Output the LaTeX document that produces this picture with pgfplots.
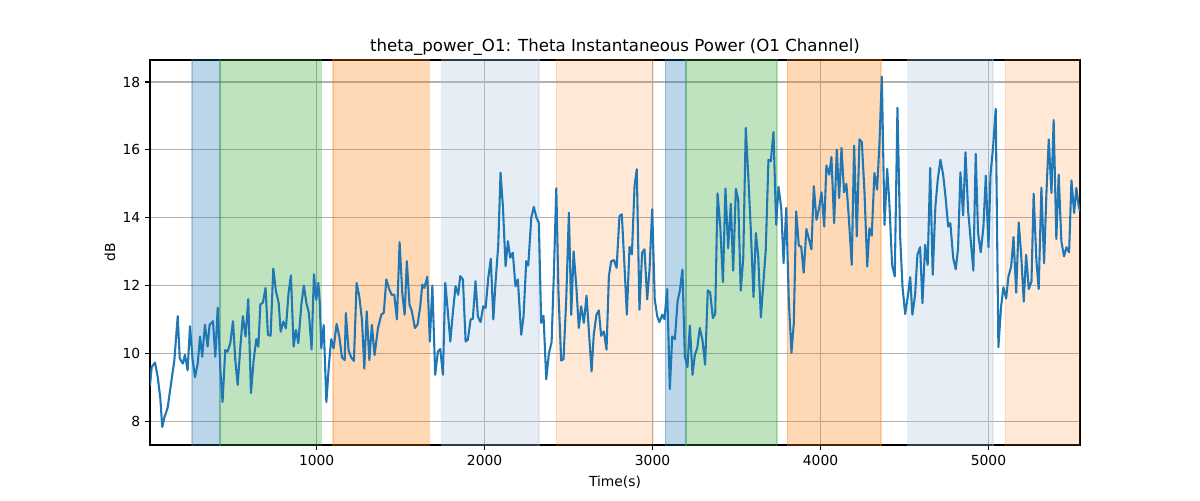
\documentclass[border=0pt]{standalone}
\usepackage{pgfplots}
\pgfplotsset{compat=1.18}
\usepackage{pgfplotstable}
\usepackage{fontspec}
\setmainfont{DejaVu Sans}
\definecolor{tabblue}{RGB}{31,119,180}
\definecolor{tabgreen}{RGB}{44,160,44}
\definecolor{taborange}{RGB}{255,127,14}
\definecolor{lsblue}{RGB}{176,196,222}
\definecolor{gridgray}{RGB}{176,176,176}
\pgfplotstableread{
x y
8 9.05
18 9.6
38 9.73
54 9.3
69 8.7
81 7.83
93 8.1
113 8.4
133 9.1
153 9.8
173 11.1
185 9.86
196 9.76
204 9.7
216 9.96
232 9.5
246 10.8
262 9.8
276 9.3
292 9.7
306 10.5
319 9.9
335 10.85
351 10.2
363 10.85
375 10.9
383 10.95
397 9.9
411 11.35
427 9.5
440 8.57
456 10.1
470 10.05
486 10.3
502 10.95
516 9.8
530 9.07
546 10.2
561 11.1
577 10.5
593 11.6
609 8.83
625 9.8
641 10.42
653 10.2
665 11.44
680 11.5
696 11.93
710 10.55
726 10.52
742 12.5
758 11.83
774 11.49
786 10.64
802 10.94
817 10.74
833 11.78
847 12.3
863 10.2
877 10.69
891 10.3
909 11.44
924 12.0
939 11.49
954 11.19
970 10.12
984 12.33
998 11.58
1010 12.08
1018 11.58
1028 10.15
1042 10.84
1058 8.56
1073 9.65
1087 10.42
1101 10.15
1119 10.87
1135 10.5
1151 9.88
1167 9.8
1174 11.19
1190 10.1
1206 9.88
1222 9.78
1238 12.08
1254 11.68
1270 10.99
1284 9.55
1298 11.24
1314 9.8
1329 10.84
1345 9.95
1365 10.74
1385 11.14
1400 11.2
1415 12.18
1430 11.93
1446 11.73
1462 11.73
1478 11.0
1494 13.28
1510 11.78
1524 11.14
1537 12.72
1553 11.44
1567 11.24
1585 10.75
1601 10.85
1617 11.39
1629 12.03
1641 11.93
1659 12.26
1674 10.35
1689 12.0
1706 9.37
1722 10.06
1736 10.13
1752 9.37
1766 12.08
1781 11.24
1796 10.35
1811 11.19
1827 11.98
1843 11.73
1855 12.28
1871 12.18
1887 10.35
1900 10.4
1917 11.0
1930 11.02
1946 12.13
1960 11.09
1976 10.92
1992 11.39
2006 11.34
2022 12.23
2037 12.79
2052 11.0
2065 12.08
2081 13.16
2095 15.33
2109 14.34
2125 12.57
2139 13.31
2153 12.82
2168 12.97
2184 11.98
2198 12.18
2218 10.55
2232 11.09
2248 12.72
2260 12.59
2278 14.0
2293 14.32
2309 14.0
2323 13.85
2337 10.9
2351 11.11
2367 9.24
2383 10.0
2399 10.33
2412 12.28
2427 14.87
2440 11.78
2456 9.79
2470 9.83
2486 11.59
2502 14.15
2516 11.14
2530 13.01
2546 11.98
2561 10.75
2575 11.39
2591 10.9
2607 11.7
2623 10.5
2637 9.47
2650 10.55
2666 11.14
2680 11.27
2694 10.52
2710 10.65
2726 10.11
2740 12.28
2754 12.72
2770 12.75
2786 12.52
2803 14.05
2817 14.1
2833 12.57
2847 11.14
2863 13.14
2877 12.92
2893 14.94
2906 15.43
2922 11.29
2938 12.97
2952 13.07
2968 11.59
2982 12.47
2998 14.25
3013 11.59
3028 11.09
3041 10.92
3058 11.14
3071 11.01
3087 11.9
3103 8.95
3117 10.5
3133 10.42
3149 11.54
3162 11.83
3178 12.47
3192 9.91
3208 9.6
3222 10.82
3238 9.37
3252 9.96
3266 10.16
3281 10.75
3297 10.4
3313 9.67
3329 11.86
3343 11.8
3359 11.04
3373 11.17
3387 14.72
3403 13.75
3419 12.1
3434 14.86
3450 13.1
3466 14.41
3480 12.44
3496 14.85
3510 14.53
3525 11.85
3540 12.81
3555 16.65
3571 15.12
3585 13.65
3601 11.66
3615 13.55
3629 12.86
3645 11.06
3661 12.17
3674 13.05
3690 15.71
3704 15.66
3720 16.52
3736 13.79
3750 14.91
3766 14.29
3780 12.66
3796 14.29
3811 11.58
3827 10.02
3841 10.89
3855 14.19
3871 13.17
3885 13.15
3900 12.38
3916 13.67
3932 13.35
3946 13.07
3960 14.93
3976 13.94
3992 14.29
4006 14.75
4022 13.74
4035 15.54
4052 15.27
4065 15.79
4081 13.84
4097 16.01
4111 14.58
4125 16.06
4140 14.75
4154 15.0
4168 14.04
4186 12.61
4200 16.13
4216 13.45
4232 16.31
4246 16.23
4262 14.73
4278 12.56
4291 13.69
4305 13.47
4321 15.32
4337 14.83
4351 16.21
4365 18.16
4381 13.79
4397 15.44
4410 14.43
4426 12.61
4442 12.27
4458 17.24
4474 13.45
4488 11.97
4504 11.16
4519 11.66
4534 12.25
4547 11.14
4563 11.72
4577 12.91
4593 13.13
4607 11.48
4623 13.2
4638 12.61
4653 15.47
4668 12.32
4684 14.34
4698 15.12
4714 15.71
4730 15.27
4744 14.63
4760 13.74
4773 13.84
4790 12.81
4805 12.48
4819 13.1
4833 15.34
4849 14.07
4863 15.93
4879 14.19
4894 13.35
4910 12.44
4924 15.88
4938 13.55
4954 12.98
4970 13.74
4984 15.24
5000 13.13
5012 15.27
5028 16.11
5043 17.21
5059 10.18
5075 11.38
5089 11.95
5105 11.62
5119 12.27
5135 12.56
5149 13.43
5165 11.79
5180 13.86
5194 12.96
5210 11.53
5224 12.91
5240 11.9
5256 12.12
5269 14.71
5285 12.76
5299 11.9
5315 14.89
5331 12.66
5345 14.73
5359 16.31
5375 14.73
5388 16.88
5404 13.37
5418 15.27
5434 13.3
5450 12.86
5464 13.13
5480 12.98
5494 15.1
5510 14.14
5523 14.88
5537 14.34
5545 14.2
}\datatable
\begin{document}
\begin{tikzpicture}[x=1bp,y=1bp]
\useasboundingbox (0,0) rectangle (864,360);
\begin{axis}[
  at={(108bp,39.6bp)}, anchor=south west,
  scale only axis, width=669.6bp, height=277.2bp,
  xmin=8, xmax=5545, ymin=7.30, ymax=18.65,
  xtick={1000,2000,3000,4000,5000},
  ytick={8,10,12,14,16,18},
  grid=major,
  major grid style={draw=gridgray, line width=0.8bp},
  tick align=outside, tick pos=left,
  major tick length=3.5bp,
  major tick style={draw=black, line width=0.8bp},
  axis line style={line width=0.8bp},
  /pgf/number format/assume math mode=true,
  /pgf/number format/1000 sep={},
  tick label style={font=\fontsize{10}{12}\selectfont},
  title={theta\_power\_O1: Theta Instantaneous Power (O1 Channel)},
  title style={font=\fontsize{12}{14}\selectfont, yshift=-6.5bp},
  xlabel={Time(s)}, ylabel={dB},
  label style={font=\fontsize{10}{12}\selectfont},
  xlabel style={yshift=-1bp},
  ylabel style={yshift=-1.5bp},
]
\addplot[fill=tabblue, fill opacity=0.3, draw=tabblue, draw opacity=0.3, line width=1bp, forget plot] coordinates {(258,7) (258,19) (424,19) (424,7)} -- cycle;
\addplot[fill=tabgreen, fill opacity=0.3, draw=tabgreen, draw opacity=0.3, line width=1bp, forget plot] coordinates {(424,7) (424,19) (1028,19) (1028,7)} -- cycle;
\addplot[fill=taborange, fill opacity=0.3, draw=taborange, draw opacity=0.3, line width=1bp, forget plot] coordinates {(1097,7) (1097,19) (1671,19) (1671,7)} -- cycle;
\addplot[fill=lsblue, fill opacity=0.3, draw=lsblue, draw opacity=0.3, line width=1bp, forget plot] coordinates {(1744,7) (1744,19) (2325,19) (2325,7)} -- cycle;
\addplot[fill=taborange, fill opacity=0.17, draw=taborange, draw opacity=0.17, line width=1bp, forget plot] coordinates {(2428,7) (2428,19) (3004,19) (3004,7)} -- cycle;
\addplot[fill=tabblue, fill opacity=0.3, draw=tabblue, draw opacity=0.3, line width=1bp, forget plot] coordinates {(3077,7) (3077,19) (3198,19) (3198,7)} -- cycle;
\addplot[fill=tabgreen, fill opacity=0.3, draw=tabgreen, draw opacity=0.3, line width=1bp, forget plot] coordinates {(3198,7) (3198,19) (3742,19) (3742,7)} -- cycle;
\addplot[fill=taborange, fill opacity=0.3, draw=taborange, draw opacity=0.3, line width=1bp, forget plot] coordinates {(3803,7) (3803,19) (4361,19) (4361,7)} -- cycle;
\addplot[fill=lsblue, fill opacity=0.3, draw=lsblue, draw opacity=0.3, line width=1bp, forget plot] coordinates {(4518,7) (4518,19) (5028,19) (5028,7)} -- cycle;
\addplot[fill=taborange, fill opacity=0.17, draw=taborange, draw opacity=0.17, line width=1bp, forget plot] coordinates {(5101,7) (5101,19) (5600,19) (5600,7)} -- cycle;
\addplot[tabblue, line width=1.5bp, line join=round, mark=none] table[x=x,y=y] {\datatable};
\end{axis}
\end{tikzpicture}
\end{document}
